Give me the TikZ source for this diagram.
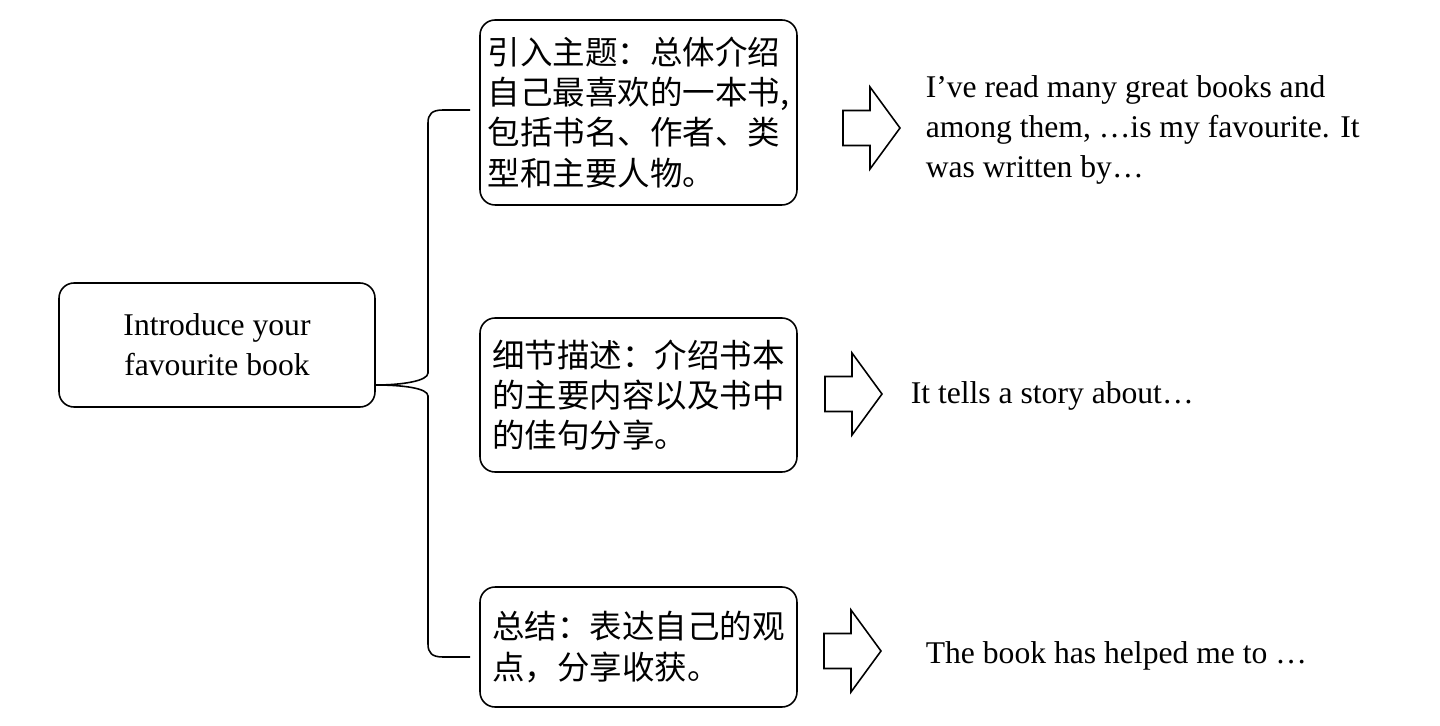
\documentclass[tikz,border=0pt]{standalone}
\usepackage{fontspec}
\setmainfont{Liberation Serif}
\newfontfamily\cjk{Noto Sans CJK SC}
\usetikzlibrary{arrows, arrows.meta}
\usetikzlibrary{shapes}
\tikzset{box/.style={draw, rounded corners=0.3cm, align=left, inner sep=0pt},
  zh/.style={font=\cjk\fontsize{18.5}{22.8}\selectfont},
  en/.style={font=\fontsize{18}{22.8}\selectfont, align=left, inner sep=0pt}}

\begin{document}
\begin{tikzpicture}[x=0.02cm,y=-0.02cm,line width=0.9pt]
      \useasboundingbox (0,0) rectangle (1440,726);
      \node[box, en, align=center, minimum width=6.32cm, minimum height=2.48cm] (intro) at (217,345) {Introduce your\\favourite book};
      \node[box, zh, minimum width=6.34cm, minimum height=3.7cm] (step1) at (638.5,112.5) {引入主题：总体介绍\\自己最喜欢的一本书,\\包括书名、作者、类\\型和主要人物。};
      \node[box, zh, minimum width=6.34cm, minimum height=3.08cm] (step2) at (638.5,395) {细节描述：介绍书本\\的主要内容以及书中\\的佳句分享。};
      \node[box, zh, minimum width=6.34cm, minimum height=2.4cm] (step3) at (638.5,647) {总结：表达自己的观\\点，分享收获。};
      \node[en, anchor=base west] (say1) at (925,178) {I’ve read many great books and\\among them, …is my favourite. It\\was written by…};
      \node[en, anchor=base west] (say2) at (910,403) {It tells a story about…};
      \node[en, anchor=base west] (say3) at (925,663) {The book has helped me to …};
      % brace
      \coordinate (tip) at ([yshift=-0.8cm]intro.east);
      \coordinate (bt) at (470,110);
      \coordinate (bb) at (470,657);
      \draw (bt) -- (443,110) .. controls (432,110) and (428,114) .. (428,123) -- (428,373) .. controls (428,381) and (402,385) .. (tip);
      \draw (tip) .. controls (402,385) and (428,388) .. (428,396) -- (428,644) .. controls (428,653) and (432,657) .. (443,657) -- (bb);
      % block arrows
      \foreach \ax/\ay in {843/128, 825/394, 824/651}
        \draw[line join=miter] (\ax,\ay-17.5) -- (\ax+27,\ay-17.5) -- (\ax+27,\ay-41) -- (\ax+57,\ay) -- (\ax+27,\ay+41) -- (\ax+27,\ay+17.5) -- (\ax,\ay+17.5) -- cycle;
\end{tikzpicture}
\end{document}
